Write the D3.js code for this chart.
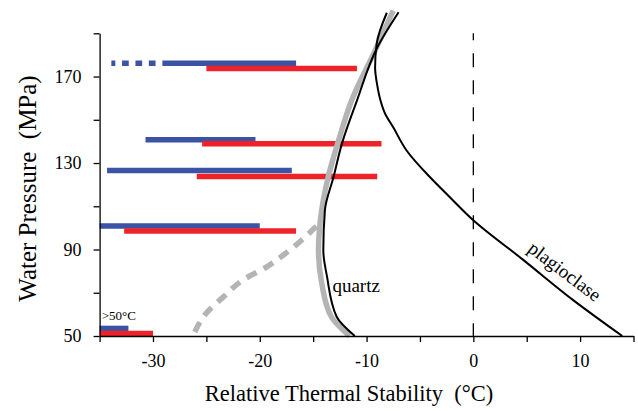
<!DOCTYPE html>
<html>
<head>
<meta charset="utf-8">
<script src="https://cdn.jsdelivr.net/npm/d3@7"></script>
<style>
	body { margin: 0; background: #fff; }
	svg { display: block; }
	text { font-family: "Liberation Serif", "Times New Roman", serif; fill: #000; }
</style>
</head>
<body>
<svg id="chart" width="638" height="411"></svg>
<script>
// blue / red stability ranges (degC) at each water pressure (MPa)
const bluePressure = [176.1, 140.8, 126.5, 100.9, 53.5];
const blueStart = [-29.1, -30.7, -34.3, -35.0, -35.0];
const blueEnd = [-16.6, -20.4, -17.0, -20.0, -32.3];
const blueDottedStart = [-33.9, null, null, null, null];

const redPressure = [173.7, 138.9, 123.8, 98.6, 51.1];
const redStart = [-25.0, -25.4, -25.9, -32.7, -35.0];
const redEnd = [-10.9, -8.6, -9.0, -16.6, -30.0];

// curves: [degC, MPa]
const quartzCurve = [[-7.0, 199.7], [-9.0, 183.4], [-10.9, 158.9], [-12.3, 139.1], [-13.1, 123.4],
	[-13.9, 108.2], [-14.05, 89.7], [-13.7, 77.4], [-12.8, 58.9], [-11.1, 50]];
const quartzGrayCurve = [[-7.5, 200.5], [-9.2, 182], [-11.4, 158.9], [-12.7, 139.1], [-13.6, 123.4],
	[-14.2, 108.2], [-14.5, 89.7], [-14.2, 74.5], [-13.3, 58.9], [-11.6, 50]];
const quartzGrayDashed = [[-14.7, 100.8], [-17.2, 89.7], [-19.35, 82], [-21.6, 75.8],
	[-23.4, 68.1], [-25.0, 60.6], [-26.25, 50]];
const plagioclaseCurve = [[-8.1, 199.5], [-9.05, 185.2], [-9.2, 174.2], [-9.0, 166], [-8.7, 159],
	[-8.27, 152.9], [-7.5, 146.5], [-6.25, 135.8], [-4.05, 123.4], [-2.2, 114.2], [0, 103.5],
	[4.7, 85.1], [9.35, 66.6], [13.95, 50]];

const xTicks = [-35, -30, -25, -20, -15, -10, -5, 0, 5, 10, 15];
const xLabels = [-30, -20, -10, 0, 10];
const yTicks = [50, 70, 90, 110, 130, 150, 170, 190];
const yLabels = [50, 90, 130, 170];

const serif = '"Liberation Serif", "Times New Roman", serif';

const svg = d3.select("#chart");
svg.append("rect").attr("width", 638).attr("height", 411).attr("fill", "#fff");

const x = d3.scaleLinear().domain([-35, 15]).range([99.6, 633.5]);
const y = d3.scaleLinear().domain([50, 190]).range([336, 33.3]);

// zero line
svg.append("line")
	.attr("x1", x(0)).attr("x2", x(0))
	.attr("y1", y(190)).attr("y2", y(50))
	.attr("stroke", "#000")
	.attr("stroke-width", 1.3)
	.attr("stroke-dasharray", "14,13")
	.attr("stroke-dashoffset", 7);

// bars
const bars = svg.append("g").attr("class", "bars");
bluePressure.forEach((p, i) => {
	if (blueDottedStart[i] !== null) {
		bars.append("line")
			.attr("x1", x(blueDottedStart[i])).attr("x2", x(blueStart[i]))
			.attr("y1", y(p)).attr("y2", y(p))
			.attr("stroke", "#3a53a4")
			.attr("stroke-width", 5.5)
			.attr("stroke-dasharray", "4,6.7,6.7,6.7,6.7,6.7,6.7,6.7,6.7,6.7");
	}
	bars.append("line")
		.attr("x1", x(blueStart[i])).attr("x2", x(blueEnd[i]))
		.attr("y1", y(p)).attr("y2", y(p))
		.attr("stroke", "#3a53a4")
		.attr("stroke-width", 5.5);
});
redPressure.forEach((p, i) => {
	bars.append("line")
		.attr("x1", x(redStart[i])).attr("x2", x(redEnd[i]))
		.attr("y1", y(p)).attr("y2", y(p))
		.attr("stroke", "#ee2229")
		.attr("stroke-width", 5.5);
});

// every curve is single-valued in pressure, so monotone-in-y keeps it smooth
const line = d3.line()
	.x(d => x(d[0]))
	.y(d => y(d[1]))
	.curve(d3.curveMonotoneY);

svg.append("path")
	.datum(quartzGrayDashed)
	.attr("d", line)
	.attr("fill", "none")
	.attr("stroke", "#b4b4b4")
	.attr("stroke-width", 5.5)
	.attr("stroke-dasharray", "11,8");

svg.append("path")
	.datum(quartzGrayCurve)
	.attr("d", line)
	.attr("fill", "none")
	.attr("stroke", "#b4b4b4")
	.attr("stroke-width", 5.5);

svg.append("path")
	.datum(quartzCurve)
	.attr("d", line)
	.attr("fill", "none")
	.attr("stroke", "#000")
	.attr("stroke-width", 2);

svg.append("path")
	.datum(plagioclaseCurve)
	.attr("d", line)
	.attr("fill", "none")
	.attr("stroke", "#000")
	.attr("stroke-width", 2);

// axes
const xAxis = svg.append("g")
	.attr("transform", `translate(0,${y(50)})`)
	.call(d3.axisBottom(x)
		.tickValues(xTicks)
		.tickSize(6)
		.tickSizeOuter(0)
		.tickPadding(12)
		.tickFormat(d => xLabels.includes(d) ? String(d) : ""));

const yAxis = svg.append("g")
	.attr("transform", `translate(${x(-35)},0)`)
	.call(d3.axisLeft(y)
		.tickValues(yTicks)
		.tickSize(6)
		.tickSizeOuter(0)
		.tickPadding(12)
		.tickFormat(d => yLabels.includes(d) ? String(d) : ""));

[xAxis, yAxis].forEach(a => {
	a.attr("font-family", null);
	a.select(".domain").attr("stroke", "#000").attr("stroke-width", 1.3);
	a.selectAll(".tick line").attr("stroke", "#000").attr("stroke-width", 1.3);
	a.selectAll("text")
		.style("font-family", serif)
		.style("font-size", "18px")
		.attr("fill", "#000");
});

// titles
svg.append("text")
	.attr("x", 349)
	.attr("y", 401)
	.attr("text-anchor", "middle")
	.style("font-family", serif)
	.style("font-size", "22.5px")
	.style("white-space", "pre")
	.text("Relative Thermal Stability  (°C)");

svg.append("text")
	.attr("transform", "translate(36,188.5) rotate(-90)")
	.attr("text-anchor", "middle")
	.style("font-family", serif)
	.style("font-size", "25px")
	.style("white-space", "pre")
	.text("Water Pressure  (MPa)");

// annotations
svg.append("text")
	.attr("x", x(-13.2))
	.attr("y", y(70.3))
	.style("font-family", serif)
	.style("font-size", "19px")
	.text("quartz");

svg.append("text")
	.attr("transform", `translate(${x(8.2)},${y(77.5)}) rotate(37)`)
	.attr("text-anchor", "middle")
	.style("font-family", serif)
	.style("font-size", "19px")
	.text("plagioclase");

svg.append("text")
	.attr("x", x(-34.8))
	.attr("y", y(57.2))
	.style("font-family", serif)
	.style("font-size", "13px")
	.text(">50°C");
</script>
</body>
</html>
